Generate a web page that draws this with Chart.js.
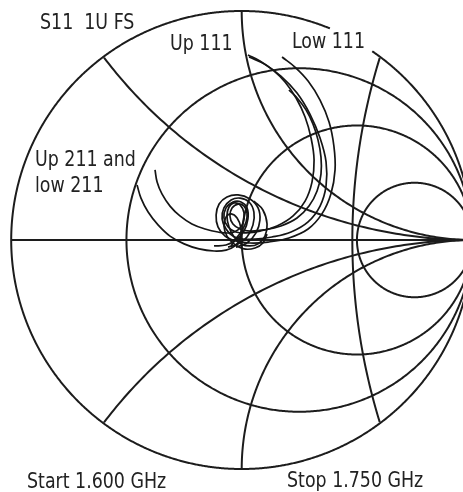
<!DOCTYPE html>
<html>
<head>
<meta charset="utf-8">
<script src="https://cdn.jsdelivr.net/npm/chart.js@4"></script>
<style>
  html, body { margin: 0; padding: 0; background: #fff; }
  #wrap { width: 463px; height: 492px; position: relative; }
</style>
</head>
<body>
<div id="wrap"><canvas id="smith"></canvas></div>
<script>
// Smith chart graticule: normalised resistance circles and reactance arcs
const resistanceCircles = [1 / 3, 1, 3];
const reactanceArcs = [0.5, 1, -0.5, -1];
// extra reference circle on the real axis (centre, radius)
const referenceCircle = [3.2, 2.72];

// S11 reflection coefficient traces, 1.600 - 1.750 GHz (real / imaginary parts)
const up111aRe = [0.027, 0.079, 0.136, 0.188, 0.236, 0.275, 0.301, 0.314, 0.305, 0.275, 0.223, 0.153, 0.079, 0.019, -0.025, -0.059, -0.077, -0.068, -0.038, -0.003, 0.023, 0.027, 0.010, -0.025, -0.068, -0.120];
const up111aIm = [0.808, 0.782, 0.742, 0.690, 0.620, 0.537, 0.445, 0.349, 0.253, 0.170, 0.105, 0.061, 0.039, 0.031, 0.035, 0.057, 0.096, 0.140, 0.166, 0.166, 0.140, 0.092, 0.039, 0.000, -0.022, -0.026];

const up111bRe = [0.032, 0.097, 0.170, 0.240, 0.296, 0.340, 0.366, 0.366, 0.340, 0.288, 0.214, 0.131, 0.058, 0.006, -0.038, -0.068, -0.085, -0.077, -0.046, -0.007, 0.032, 0.053, 0.049, 0.023, -0.016, -0.059];
const up111bIm = [0.799, 0.769, 0.716, 0.642, 0.550, 0.445, 0.341, 0.236, 0.148, 0.079, 0.035, 0.013, 0.004, 0.004, 0.017, 0.048, 0.092, 0.140, 0.175, 0.183, 0.166, 0.122, 0.066, 0.013, -0.017, -0.031];

const low111aRe = [0.175, 0.231, 0.288, 0.340, 0.379, 0.400, 0.405, 0.387, 0.348, 0.288, 0.205, 0.114, 0.036, -0.025, -0.072, -0.103, -0.111, -0.098, -0.064, -0.016, 0.036, 0.071, 0.079, 0.062, 0.023, -0.025];
const low111aIm = [0.799, 0.755, 0.694, 0.611, 0.515, 0.410, 0.306, 0.201, 0.114, 0.048, 0.009, -0.009, -0.013, -0.004, 0.017, 0.057, 0.109, 0.157, 0.188, 0.197, 0.179, 0.140, 0.087, 0.031, -0.013, -0.031];

const low111bRe = [0.205, 0.244, 0.279, 0.309, 0.331, 0.344, 0.344, 0.327, 0.292, 0.240, 0.170, 0.097, 0.036, -0.007, -0.038, -0.051, -0.042, -0.016, 0.010, 0.023, 0.019, -0.003, -0.029, -0.046];
const low111bIm = [0.655, 0.616, 0.568, 0.507, 0.437, 0.362, 0.288, 0.214, 0.148, 0.096, 0.061, 0.044, 0.039, 0.048, 0.070, 0.105, 0.140, 0.157, 0.148, 0.118, 0.079, 0.035, 0.000, -0.026];

const up211Re = [-0.376, -0.367, -0.346, -0.311, -0.268, -0.216, -0.159, -0.103, -0.051, -0.016, 0.006, 0.010, -0.007, -0.033, -0.055, -0.064, -0.055, -0.033, -0.003, 0.036, 0.071, 0.101, 0.110, 0.092, 0.053];
const up211Im = [0.306, 0.253, 0.201, 0.148, 0.105, 0.070, 0.048, 0.035, 0.031, 0.044, 0.074, 0.118, 0.153, 0.162, 0.144, 0.105, 0.057, 0.013, -0.017, -0.026, -0.017, 0.017, 0.070, 0.131, 0.170];

const low211Re = [-0.454, -0.437, -0.406, -0.363, -0.311, -0.250, -0.185, -0.120, -0.068, -0.029, -0.007, -0.003, -0.020, -0.046, -0.068, -0.077, -0.064, -0.033, 0.010, 0.058, 0.092, 0.110];
const low211Im = [0.240, 0.183, 0.122, 0.066, 0.017, -0.017, -0.039, -0.048, -0.044, -0.026, 0.009, 0.052, 0.096, 0.114, 0.100, 0.061, 0.017, -0.017, -0.039, -0.035, -0.013, 0.026];

const traces = [
  [up111aRe, up111aIm], [up111bRe, up111bIm],
  [low111aRe, low111aIm], [low111bRe, low111bIm],
  [up211Re, up211Im], [low211Re, low211Im]
];

// annotation texts
const titleText = 'S11  1U FS';
const traceLabels = ['Up 111', 'Low 111', 'Up 211 and', 'low 211'];
const startText = 'Start 1.600 GHz';
const stopText = 'Stop 1.750 GHz';

const INK = '#1c1c1c';

function polyline(ctx, chart, pts) {
  const sx = chart.scales.x, sy = chart.scales.y;
  let pen = false;
  ctx.beginPath();
  for (const p of pts) {
    if (p === null) { pen = false; continue; }
    const px = sx.getPixelForValue(p[0]), py = sy.getPixelForValue(p[1]);
    if (!pen) { ctx.moveTo(px, py); pen = true; } else { ctx.lineTo(px, py); }
  }
  ctx.stroke();
}

// sample a circle in the reflection plane, keeping only the part inside |G| <= 1
function circlePoints(cx, cy, r) {
  const pts = [];
  const n = 720;
  for (let i = 0; i <= n; i++) {
    const a = (i / n) * Math.PI * 2;
    const re = cx + r * Math.cos(a), im = cy + r * Math.sin(a);
    if (re * re + im * im > 1.0000001) { pts.push(null); continue; }
    pts.push([re, im]);
  }
  return pts;
}

// condensed text: DejaVu Sans Condensed squeezed horizontally
function label(ctx, text, x, y) {
  ctx.save();
  ctx.translate(x, y);
  ctx.scale(0.88, 1);
  ctx.fillText(text, 0, 0);
  ctx.restore();
}

const smithGrid = {
  id: 'smithGrid',
  beforeDatasetsDraw(chart) {
    const ctx = chart.ctx;
    ctx.save();
    ctx.strokeStyle = INK;
    ctx.lineWidth = 2;
    ctx.lineCap = 'butt';
    // outer |G| = 1 boundary, opened where the "Low 111" label sits
    const g0 = 55.5 * Math.PI / 180, g1 = 67.5 * Math.PI / 180;
    const outer = [];
    for (let i = 0; i <= 1440; i++) {
      const a = (i / 1440) * Math.PI * 2;
      if (a > g0 && a < g1) { outer.push(null); continue; }
      outer.push([Math.cos(a), Math.sin(a)]);
    }
    polyline(ctx, chart, outer);
    // real axis
    polyline(ctx, chart, [[-1, 0], [1.2, 0]]);
    // constant resistance circles
    for (const r of resistanceCircles) {
      polyline(ctx, chart, circlePoints(r / (1 + r), 0, 1 / (1 + r)));
    }
    // constant reactance arcs
    for (const x of reactanceArcs) {
      polyline(ctx, chart, circlePoints(1, 1 / x, Math.abs(1 / x)));
    }
    polyline(ctx, chart, circlePoints(referenceCircle[0], 0, referenceCircle[1]));
    ctx.restore();
  },
  afterDraw(chart) {
    const ctx = chart.ctx;
    ctx.save();
    ctx.fillStyle = '#222';
    ctx.textBaseline = 'alphabetic';
    ctx.font = "22px 'Liberation Sans Narrow', 'DejaVu Sans Condensed', 'Arial Narrow', sans-serif";
    label(ctx, titleText, 40, 29);
    label(ctx, traceLabels[0], 170, 50);
    label(ctx, traceLabels[1], 292, 48);
    label(ctx, traceLabels[2], 35, 166);
    label(ctx, traceLabels[3], 35, 192);
    label(ctx, startText, 27, 488);
    label(ctx, stopText, 287, 487);
    ctx.restore();
  }
};

new Chart(document.getElementById('smith'), {
  type: 'scatter',
  data: {
    datasets: traces.map(([re, im]) => ({
      data: re.map((v, i) => ({ x: v, y: im[i] })),
      showLine: true,
      tension: 0.4,
      borderColor: '#151515',
      borderWidth: 1.7,
      pointRadius: 0,
      pointHoverRadius: 0,
      fill: false
    }))
  },
  options: {
    responsive: true,
    maintainAspectRatio: false,
    animation: false,
    layout: { padding: 0 },
    plugins: { legend: { display: false }, tooltip: { enabled: false } },
    scales: {
      x: { type: 'linear', min: -1.0486, max: 0.9601, display: false },
      y: { type: 'linear', min: -1.1004, max: 1.048, display: false }
    }
  },
  plugins: [smithGrid]
});
</script>
</body>
</html>
